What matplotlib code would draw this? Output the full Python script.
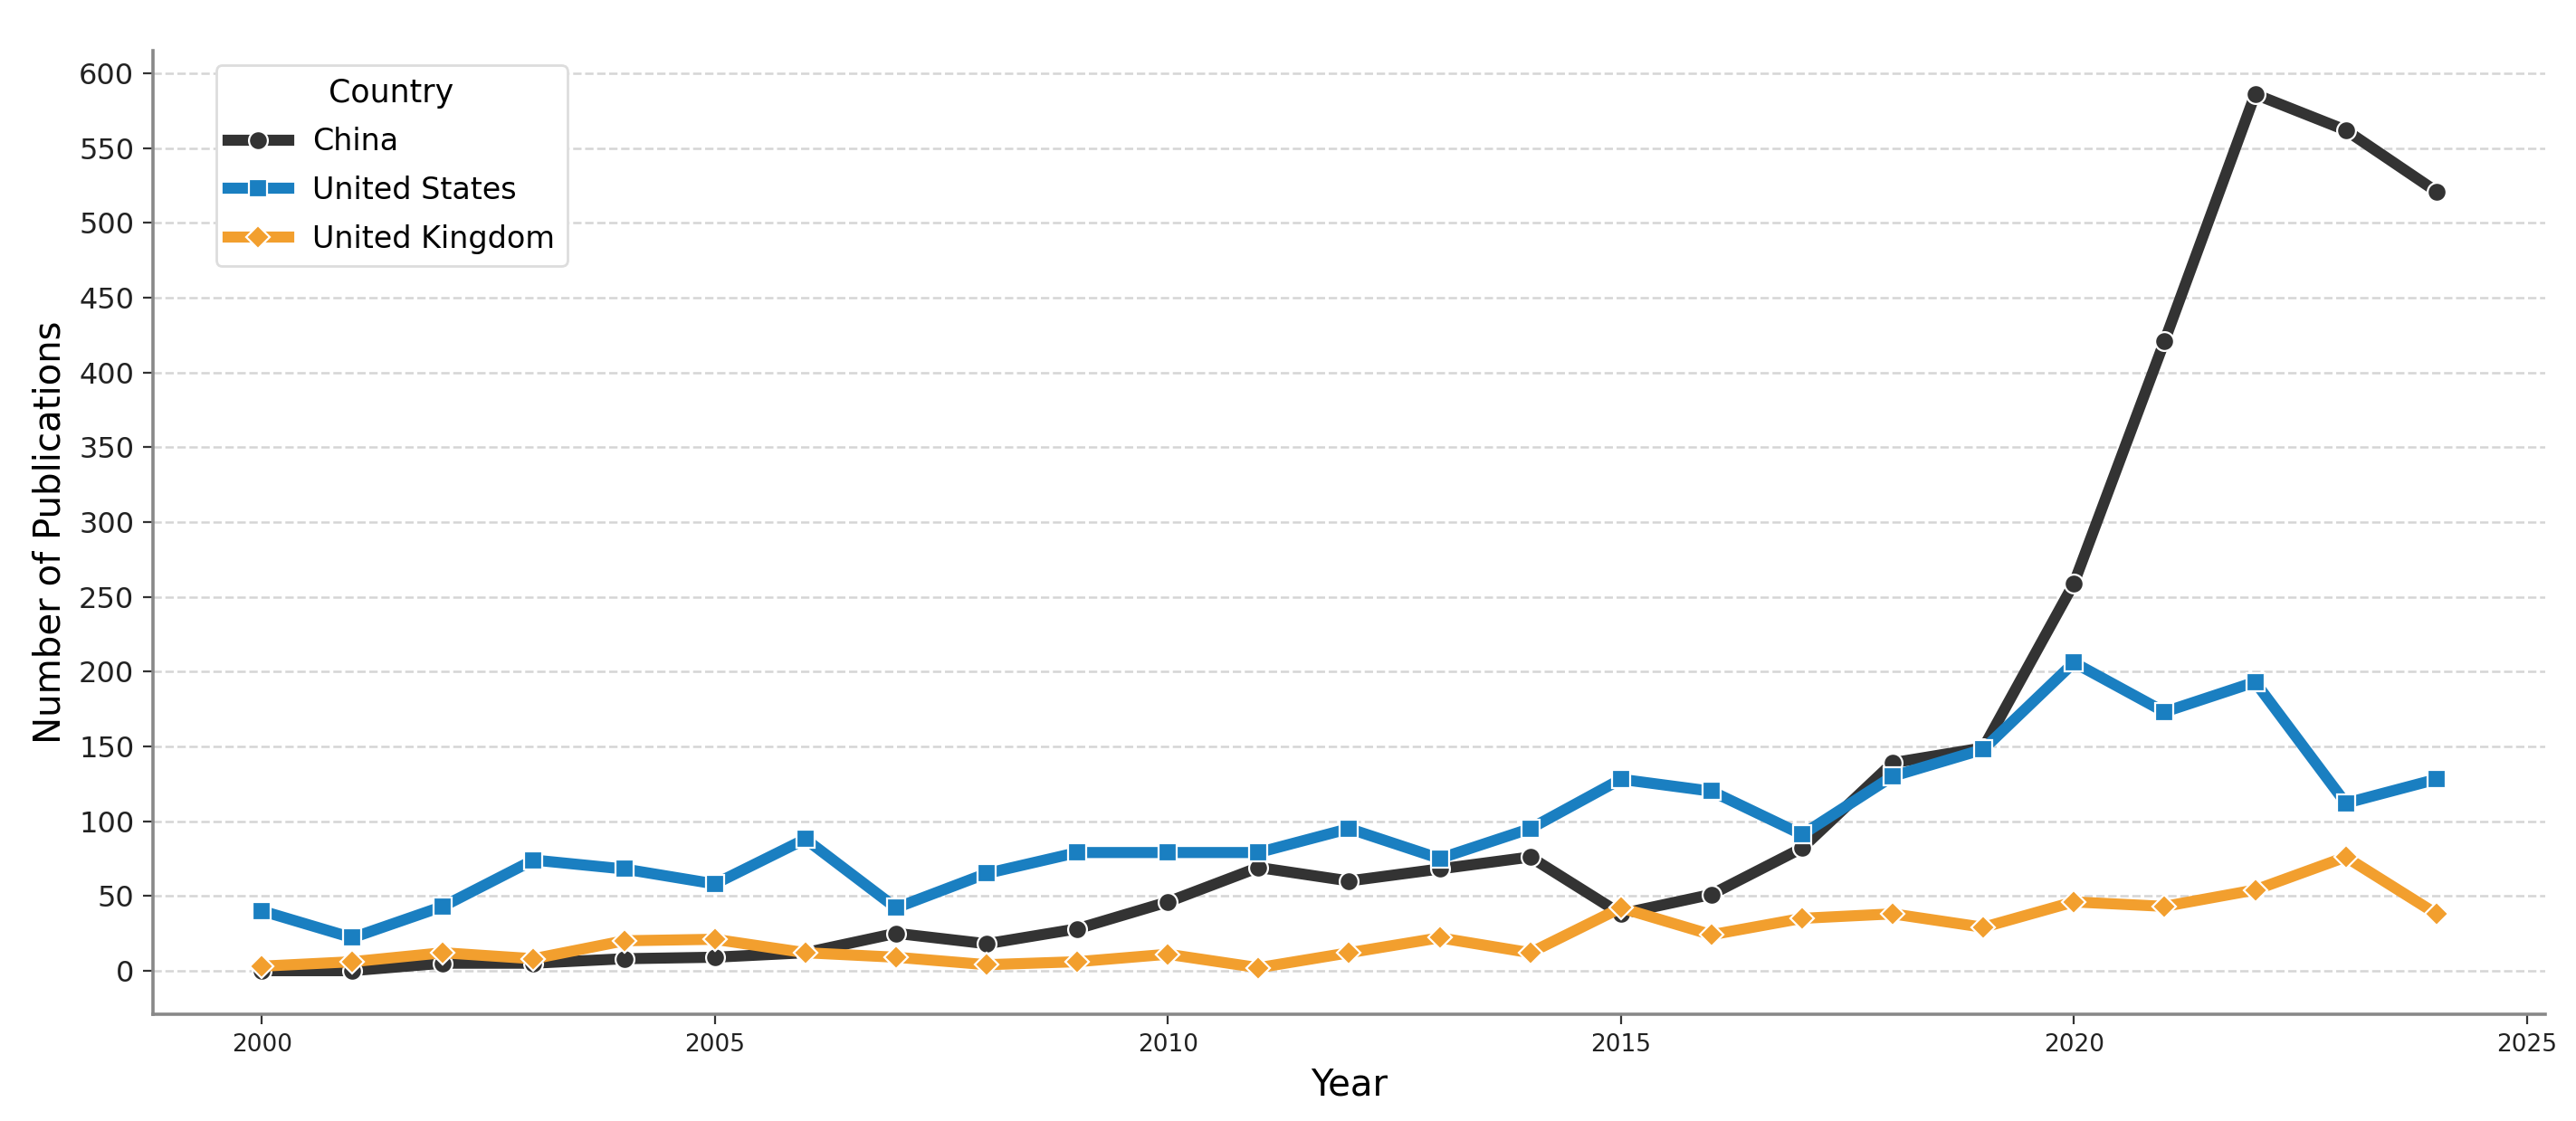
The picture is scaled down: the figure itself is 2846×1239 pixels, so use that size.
import matplotlib
matplotlib.use('Agg')
import matplotlib.pyplot as plt

# Publications per year by country
years = list(range(2000, 2025))
china = [0, 0, 5, 5, 8, 9, 12, 25, 18, 28, 46, 69, 60, 68, 76,
         38, 51, 82, 139, 149, 259, 421, 586, 562, 521]
united_states = [40, 22, 43, 74, 68, 58, 88, 42, 65, 79, 79, 79, 95, 75, 95,
                 128, 120, 91, 130, 148, 206, 173, 193, 112, 128]
united_kingdom = [3, 6, 12, 8, 20, 21, 12, 9, 4, 6, 11, 2, 12, 22, 12,
                  42, 24, 35, 38, 29, 46, 43, 54, 76, 38]

series = [
    ('China', china, '#333333', 'o'),
    ('United States', united_states, '#1a7fc1', 's'),
    ('United Kingdom', united_kingdom, '#f29f2e', 'D'),
]

fig = plt.figure(figsize=(14.23, 6.195), dpi=200)
ax = fig.add_axes([0.0594, 0.095, 0.9286, 0.86])

for name, vals, color, marker in series:
    ax.plot(years, vals, color=color, marker=marker, linewidth=4.4,
            markersize=7.5 if marker != 'D' else 6.5,
            markeredgecolor='white', markeredgewidth=0.8, label=name)

ax.set_xlabel('Year', fontsize=14.5)
ax.set_ylabel('Number of Publications', fontsize=14.5)
ax.set_yticks(range(0, 601, 50))
ax.tick_params(axis='y', labelsize=11.5, colors='#333333', length=4)
ax.tick_params(axis='x', labelsize=9.5, colors='#333333', length=4)
for lab in ax.get_xticklabels() + ax.get_yticklabels():
    lab.set_color('#222222')

ax.grid(axis='y', linestyle='--', color='#d5d5d5', linewidth=0.9)
ax.set_axisbelow(True)
for side in ['top', 'right']:
    ax.spines[side].set_visible(False)
for side in ['left', 'bottom']:
    ax.spines[side].set_color('#888888')
    ax.spines[side].set_linewidth(1.3)

leg = ax.legend(title='Country', loc='upper left', fontsize=12,
                title_fontsize=12.5, bbox_to_anchor=(0.02, 1.0),
                labelspacing=0.62, frameon=True, framealpha=1,
                edgecolor='#dddddd')

fig.savefig('out.png', dpi=200)
